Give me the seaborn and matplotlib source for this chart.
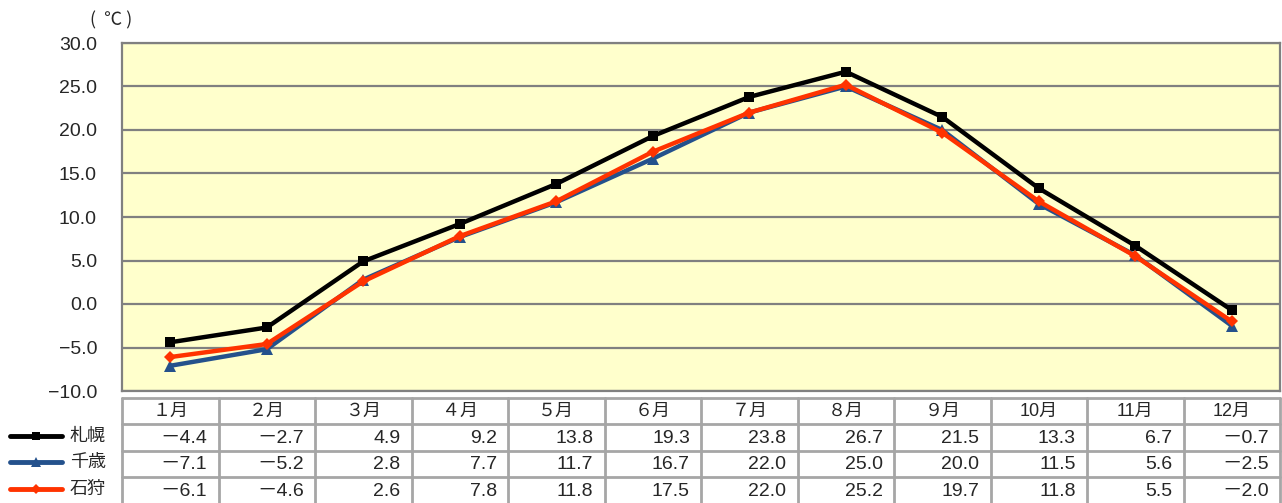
import matplotlib
matplotlib.use("Agg")
import matplotlib.pyplot as plt
import seaborn as sns
import pandas as pd

# Datos: temperatura media mensual (°C)
months = ["１月", "２月", "３月", "４月", "５月", "６月", "７月", "８月", "９月", "10月", "11月", "12月"]
stations = ["札幌", "千歳", "石狩"]
sapporo = [-4.4, -2.7, 4.9, 9.2, 13.8, 19.3, 23.8, 26.7, 21.5, 13.3, 6.7, -0.7]
chitose = [-7.1, -5.2, 2.8, 7.7, 11.7, 16.7, 22.0, 25.0, 20.0, 11.5, 5.6, -2.5]
ishikari = [-6.1, -4.6, 2.6, 7.8, 11.8, 17.5, 22.0, 25.2, 19.7, 11.8, 5.5, -2.0]
y_ticks = [-10, -5, 0, 5, 10, 15, 20, 25, 30]

colors = ["#000000", "#24518C", "#FF3300"]
markers = ["s", "^", "D"]
msizes = [7, 8, 6]

sns.set_style("white")
plt.rcParams["font.family"] = ["Noto Sans CJK JP", "DejaVu Sans"]
num_font = ["Liberation Sans", "Noto Sans CJK JP"]

W, H = 1282, 503
fig = plt.figure(figsize=(W / 100, H / 100), dpi=100)

# Área del gráfico
ax = fig.add_axes([122 / W, 1 - 391 / H, (1280 - 122) / W, (391 - 43) / H])
ax.set_facecolor("#FFFFCC")

df = pd.DataFrame({"mes": list(range(12)) * 3,
                   "temp": sapporo + chitose + ishikari,
                   "estacion": [s for s in stations for _ in range(12)]})

order_draw = [1, 2, 0]
for i in order_draw:
    sub = df[df["estacion"] == stations[i]]
    sns.lineplot(data=sub, x="mes", y="temp", ax=ax, color=colors[i], marker=markers[i],
                 markersize=msizes[i], markeredgewidth=0, linewidth=3.2, zorder=3 + i % 3,
                 legend=False)

ax.set_xlim(-0.5, 11.5)
ax.set_ylim(-10, 30)
ax.set_yticks(y_ticks)
ax.set_yticklabels([f"{v:.1f}".replace("-", "−") for v in y_ticks],
                   fontsize=14, family=["Liberation Sans", "DejaVu Sans"])
ax.set_xticks([])
ax.set_xlabel("")
ax.set_ylabel("")
ax.tick_params(axis="y", length=0, pad=18)
ax.yaxis.grid(True, color="#808080", linewidth=1.6)
ax.set_axisbelow(True)
for sp in ax.spines.values():
    sp.set_color("#808080")
    sp.set_linewidth(1.6)

fig.text(111 / W, 1 - 20 / H, "(  ℃ )", fontsize=13, ha="center", va="center")

# Tabla de datos
ax_t = fig.add_axes([122 / W, 0, (1280 - 122) / W, (503 - 398) / H])
ax_t.set_xlim(-0.5, 11.5)
ax_t.set_ylim(4, 0)
ax_t.axis("off")

grid_kw = dict(color="#A6A6A6", linewidth=2, clip_on=False)
for r in range(4):
    ax_t.plot([-0.5, 11.5], [r, r], **grid_kw)
for c in range(13):
    ax_t.plot([c - 0.5, c - 0.5], [0, 4], **grid_kw)

for c, m in enumerate(months):
    ax_t.text(c, 0.5, m, ha="center", va="center", fontsize=13, family=num_font)

series = [sapporo, chitose, ishikari]
for r, vals in enumerate(series):
    for c, v in enumerate(vals):
        ax_t.text(c + 0.385, r + 1.55, f"{v:.1f}".replace("-", "－"), ha="right", va="center",
                  fontsize=14, family=num_font)
    # Claves de la leyenda
    ax_t.plot([-1.665, -1.12], [r + 1.45, r + 1.45], color=colors[r], linewidth=3.5,
              solid_capstyle="round", clip_on=False)
    ax_t.plot([-1.39], [r + 1.45], color=colors[r], marker=markers[r],
              markersize=msizes[r] - 1, markeredgewidth=0, clip_on=False)
    ax_t.text(-1.04, r + 1.45, stations[r], ha="left", va="center", fontsize=13)

fig.savefig("out.png", dpi=100)
